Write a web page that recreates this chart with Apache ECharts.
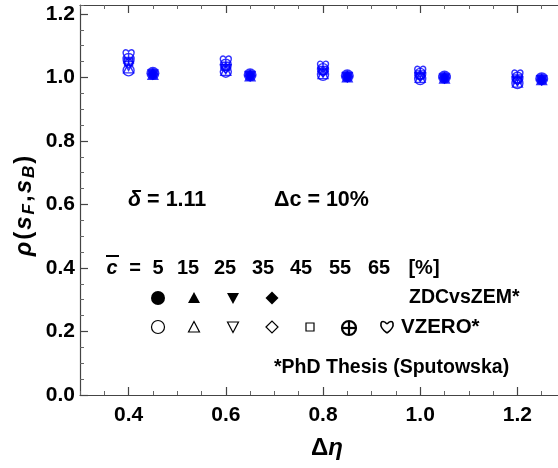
<!DOCTYPE html>
<html><head><meta charset="utf-8">
<script src="https://cdn.jsdelivr.net/npm/echarts@6/dist/echarts.min.js"></script>
<style>html,body{margin:0;padding:0;background:#fff}#c{width:558px;height:468px}</style>
</head><body><div id="c"></div>
<script>
// ---- data ----
const etaVZERO = [0.4, 0.6, 0.8, 1.0, 1.2];
const etaZDC = [0.45, 0.65, 0.85, 1.05, 1.25];
const centralityLabels = ['5', '15', '25', '35', '45', '55', '65'];
const vzero_c5  = [1.022, 1.018, 1.008, 0.995, 0.982];
const vzero_c15 = [1.030, 1.022, 1.012, 1.000, 0.985];
const vzero_c25 = [1.036, 1.026, 1.015, 1.001, 0.988];
const vzero_c35 = [1.045, 1.030, 1.019, 1.005, 0.992];
const vzero_c45 = [1.050, 1.035, 1.022, 1.008, 0.995];
const vzero_c55 = [1.058, 1.040, 1.026, 1.011, 0.999];
const vzero_c65 = [1.070, 1.050, 1.034, 1.018, 1.006];
const zdc_c5  = [1.013, 1.008, 1.005, 1.001, 0.996];
const zdc_c15 = [1.011, 1.006, 1.003, 0.999, 0.994];
const zdc_c25 = [1.008, 1.003, 1.000, 0.996, 0.990];
const zdc_c35 = [1.010, 1.005, 1.002, 0.998, 0.992];
const xTickLabels = [0.4, 0.6, 0.8, 1.0, 1.2];
const yTickLabels = [0.0, 0.2, 0.4, 0.6, 0.8, 1.0, 1.2];

const BLUE = '#0000ff';
const FONT = '"Liberation Sans", Arial, sans-serif';
const SYM = {
  circle: 'circle',
  tri: 'triangle',
  dtri: 'path://M0,0 L10,0 L5,9 Z',
  diamond: 'diamond',
  square: 'rect',
  cplus: 'path://M10,5 A5,5 0 1 1 0,5 A5,5 0 1 1 10,5 Z M0,5 L10,5 M5,0 L5,10',
  heart: 'path://M5,9.5 C1.5,6.5 0,4.5 0,2.6 C0,1 1.1,0 2.6,0 C3.8,0 4.6,0.8 5,1.8 C5.4,0.8 6.2,0 7.4,0 C8.9,0 10,1 10,2.6 C10,4.5 8.5,6.5 5,9.5 Z'
};

function mk(name, xs, ys, symbol, size, filled) {
  return {
    type: 'scatter', name, xAxisIndex: 0, yAxisIndex: 0,
    data: xs.map((x, i) => [x, ys[i]]),
    symbol, symbolSize: size,
    itemStyle: filled ? { color: BLUE } : { color: 'rgba(255,255,255,0)', borderColor: BLUE, borderWidth: 1.4 },
    emphasis: { disabled: true }, silent: true
  };
}

const series = [
  mk('V5', etaVZERO, vzero_c5, SYM.circle, 11, false),
  mk('V15', etaVZERO, vzero_c15, SYM.tri, 10, false),
  mk('V25', etaVZERO, vzero_c25, SYM.dtri, [10, 9], false),
  mk('V35', etaVZERO, vzero_c35, SYM.diamond, 10, false),
  mk('V45', etaVZERO, vzero_c45, SYM.square, 8, false),
  mk('V55', etaVZERO, vzero_c55, SYM.cplus, 11, false),
  mk('V65', etaVZERO, vzero_c65, SYM.heart, 11, false),
  mk('Z5', etaZDC, zdc_c5, SYM.circle, 13, true),
  mk('Z15', etaZDC, zdc_c15, SYM.tri, 12, true),
  mk('Z25', etaZDC, zdc_c25, SYM.dtri, [12, 11], true),
  mk('Z35', etaZDC, zdc_c35, SYM.diamond, 12, true)
];

const axColor = '#444';
const XMIN = 0.3, XMAX = 1.2835, YMIN = 0, YMAX = 1.228;
const TICKFS = 21;
function xAx(pos, major) {
  return {
    type: 'value', min: XMIN, max: XMAX, position: pos,
    interval: major ? undefined : 0.05,
    axisLine: { show: !major, onZero: false, lineStyle: { color: axColor, width: 1.2 } },
    axisTick: major ? { show: true, inside: true, length: 8, customValues: xTickLabels, lineStyle: { color: axColor, width: 1.2 } }
                    : { show: true, inside: true, length: 4, lineStyle: { color: '#666', width: 1 } },
    axisLabel: (major && pos === 'bottom') ? { show: true, customValues: xTickLabels, formatter: v => v.toFixed(1), fontSize: TICKFS, fontWeight: 'bold', fontFamily: FONT, color: '#000', margin: 10 } : { show: false },
    splitLine: { show: false }
  };
}
function yAx(major) {
  return {
    type: 'value', min: YMIN, max: YMAX, position: 'left',
    interval: major ? undefined : 0.05,
    axisLine: { show: !major, onZero: false, lineStyle: { color: axColor, width: 1.2 } },
    axisTick: major ? { show: true, inside: true, length: 8, customValues: yTickLabels, lineStyle: { color: axColor, width: 1.2 } }
                    : { show: true, inside: true, length: 4, lineStyle: { color: '#666', width: 1 } },
    axisLabel: major ? { show: true, customValues: yTickLabels, formatter: v => v.toFixed(1), fontSize: TICKFS, fontWeight: 'bold', fontFamily: FONT, color: '#000', margin: 5 } : { show: false },
    splitLine: { show: false }
  };
}

const FS = 20;
const bt = { fontFamily: FONT, fontWeight: 'bold', fontSize: FS, fill: '#000' };
function txt(x, y, s, align, extra) {
  return { type: 'text', x, y, silent: true, style: Object.assign({}, bt, { text: s, textAlign: align || 'center', textVerticalAlign: 'middle' }, extra || {}) };
}
const LROW = [268, 298, 327, 368];
const colX = [158, 194, 233, 272, 310, 349, 387];
const graphics = [];
// y axis title
graphics.push({
  type: 'text', x: 24, y: 206, rotation: Math.PI / 2, silent: true,
  style: {
    text: '{i|ρ}{n|(}{i|s}{s|F}{n|,}{i|s}{s|B}{n|)}', textAlign: 'center', textVerticalAlign: 'middle',
    rich: {
      i: { fontFamily: FONT, fontWeight: 'bold', fontStyle: 'italic', fontSize: 24, fill: '#000', padding: [0, 1] },
      n: { fontFamily: FONT, fontWeight: 'bold', fontSize: 24, fill: '#000', padding: [0, 1] },
      s: { fontFamily: FONT, fontWeight: 'bold', fontStyle: 'italic', fontSize: 17, fill: '#000', padding: [10, 1, 0, 1] }
    }
  }
});
// x axis title
graphics.push({
  type: 'text', x: 327, y: 448, silent: true,
  style: {
    text: '{n|Δ}{i|η}', textAlign: 'center', textVerticalAlign: 'middle',
    rich: {
      i: { fontFamily: FONT, fontWeight: 'bold', fontStyle: 'italic', fontSize: 24, fill: '#000' },
      n: { fontFamily: FONT, fontWeight: 'bold', fontSize: 24, fill: '#000' }
    }
  }
});
// annotations
graphics.push({
  type: 'text', x: 128, y: 200, silent: true,
  style: { text: '{i|δ}{n| = 1.11}', textAlign: 'left', textVerticalAlign: 'middle',
    rich: { i: { fontFamily: FONT, fontWeight: 'bold', fontStyle: 'italic', fontSize: 21.5, fill: '#000' },
            n: { fontFamily: FONT, fontWeight: 'bold', fontSize: 21.5, fill: '#000' } } }
});
graphics.push(txt(274, 200, 'Δc = 10%', 'left', { fontSize: 21.5 }));
// legend row 1
graphics.push({ type: 'text', x: 112, y: LROW[0], silent: true,
  style: Object.assign({}, bt, { text: 'c', fontStyle: 'italic', textAlign: 'center', textVerticalAlign: 'middle' }) });
graphics.push({ type: 'line', silent: true, shape: { x1: 106, y1: 256, x2: 119, y2: 256 }, style: { stroke: '#000', lineWidth: 2 } });
graphics.push(txt(135, LROW[0], '=', 'center'));
const numX = [158, 188, 225, 263, 301, 340, 379];
centralityLabels.forEach((s, i) => graphics.push(txt(numX[i], LROW[0], s, 'center')));
graphics.push(txt(424, LROW[0], '[%]', 'center'));
// row 2 filled
const blk = { fill: '#000' };
graphics.push({ type: 'circle', silent: true, shape: { cx: colX[0], cy: LROW[1], r: 7 }, style: blk });
graphics.push({ type: 'polygon', silent: true, shape: { points: [[colX[1] - 6, LROW[1] + 5], [colX[1] + 6, LROW[1] + 5], [colX[1], LROW[1] - 6]] }, style: blk });
graphics.push({ type: 'polygon', silent: true, shape: { points: [[colX[2] - 6, LROW[1] - 5], [colX[2] + 6, LROW[1] - 5], [colX[2], LROW[1] + 6]] }, style: blk });
graphics.push({ type: 'polygon', silent: true, shape: { points: [[colX[3] - 6.5, LROW[1]], [colX[3], LROW[1] - 6.5], [colX[3] + 6.5, LROW[1]], [colX[3], LROW[1] + 6.5]] }, style: blk });
graphics.push(txt(409, LROW[1], 'ZDCvsZEM*', 'left', { fontSize: 19.5 }));
// row 3 open
const opn = { fill: 'none', stroke: '#000', lineWidth: 1.2 };
const y3 = LROW[2];
graphics.push({ type: 'circle', silent: true, shape: { cx: colX[0], cy: y3, r: 6.5 }, style: opn });
graphics.push({ type: 'polygon', silent: true, shape: { points: [[colX[1] - 5.5, y3 + 5], [colX[1] + 5.5, y3 + 5], [colX[1], y3 - 5.5]] }, style: opn });
graphics.push({ type: 'polygon', silent: true, shape: { points: [[colX[2] - 5.5, y3 - 5], [colX[2] + 5.5, y3 - 5], [colX[2], y3 + 5.5]] }, style: opn });
graphics.push({ type: 'polygon', silent: true, shape: { points: [[colX[3] - 6, y3], [colX[3], y3 - 6], [colX[3] + 6, y3], [colX[3], y3 + 6]] }, style: opn });
graphics.push({ type: 'rect', silent: true, shape: { x: colX[4] - 4, y: y3 - 4, width: 8, height: 8 }, style: opn });
graphics.push({ type: 'circle', silent: true, shape: { cx: colX[5], cy: y3 + 1, r: 7 }, style: { fill: 'none', stroke: '#000', lineWidth: 2.2 } });
graphics.push({ type: 'line', silent: true, shape: { x1: colX[5] - 7, y1: y3 + 1, x2: colX[5] + 7, y2: y3 + 1 }, style: { stroke: '#000', lineWidth: 2.2 } });
graphics.push({ type: 'line', silent: true, shape: { x1: colX[5], y1: y3 - 6, x2: colX[5], y2: y3 + 8 }, style: { stroke: '#000', lineWidth: 2.2 } });
const hx = colX[6], hs = { fill: 'none', stroke: '#000', lineWidth: 1.6 };
graphics.push({ type: 'bezierCurve', silent: true, shape: { x1: hx, y1: y3 + 6, cpx1: hx - 10, cpy1: y3 - 1, cpx2: hx - 6, cpy2: y3 - 10, x2: hx, y2: y3 - 3 }, style: hs });
graphics.push({ type: 'bezierCurve', silent: true, shape: { x1: hx, y1: y3 + 6, cpx1: hx + 10, cpy1: y3 - 1, cpx2: hx + 6, cpy2: y3 - 10, x2: hx, y2: y3 - 3 }, style: hs });
graphics.push(txt(401, y3, 'VZERO*', 'left', { fontSize: 20.5 }));
graphics.push(txt(274, LROW[3], '*PhD Thesis (Sputowska)', 'left', { fontSize: 19.5 }));

const chart = echarts.init(document.getElementById('c'), null, { renderer: 'canvas' });
chart.setOption({
  animation: false,
  backgroundColor: '#fff',
  grid: { left: 80, right: 0, top: 5, bottom: 73, containLabel: false, outerBoundsMode: 'none' },
  xAxis: [xAx('bottom', false), xAx('bottom', true), xAx('top', false), xAx('top', true)],
  yAxis: [yAx(false), yAx(true)],
  series,
  graphic: graphics
});
</script></body></html>
